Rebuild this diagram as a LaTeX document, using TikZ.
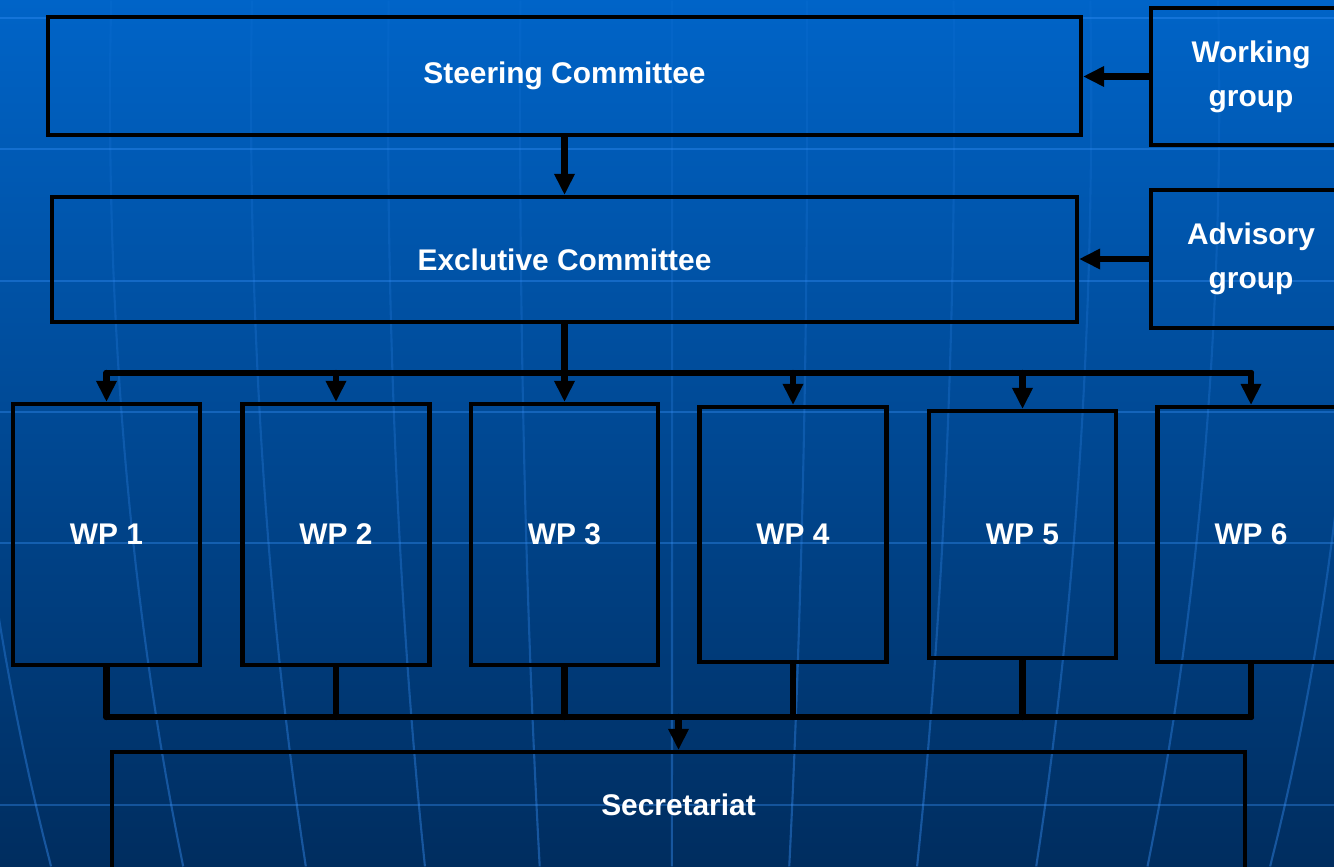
\documentclass[tikz,border=0pt]{standalone}
\usepackage{fontspec}
\setmainfont{Liberation Sans}
\usetikzlibrary{arrows.meta, fadings}
\definecolor{bgtop}{RGB}{0,100,200}
\definecolor{bgbottom}{RGB}{0,45,95}
\definecolor{gridblue}{RGB}{60,150,255}
\tikzfading[name=meridianfade, top color=transparent!85, bottom color=transparent!0]
\tikzset{
  txt/.style={text=white, font=\bfseries\fontsize{17}{25}\selectfont, align=center},
  box/.style={txt, draw=black, line width=2.3pt, rectangle},
  wire/.style={line width=3.6pt, line cap=round, line join=round},
  link/.style={wire, -{Triangle[width=11pt,length=12pt]}},
  parallel/.style={draw=gridblue, opacity=0.35, line width=1.4pt},
  meridian/.style={draw=gridblue, opacity=0.4, line width=1.2pt, path fading=meridianfade}
}

\begin{document}
\begin{tikzpicture}
    \useasboundingbox (0,0) rectangle (26.68,-17.32);
    \clip (0,0) rectangle (26.68,-17.32);
    \fill[top color=bgtop, bottom color=bgbottom] (0,0) rectangle (26.68,-17.32);
    \foreach \y in {0.36,2.98,5.62,8.24,10.86,16.1}
        \draw[parallel] (0,-\y) -- (26.68,-\y);
    \begin{scope}[x=0.02cm,y=-0.02cm]
        \foreach \d in {-712,-560,-419,-282,-150,2,137,284,421,549,690}
            \draw[meridian] plot[domain=0:866,samples=30,variable=\t] ({670+\d*sqrt(1-((\t-100)/1550)^2)},\t);
    \end{scope}

    \node[box, minimum width=20.66cm, minimum height=2.36cm] (steering) at (11.29,-1.52) {Steering Committee};
    \node[box, minimum width=20.5cm, minimum height=2.5cm] (exec) at (11.29,-5.19) {Exclutive Committee};
    \node[box, minimum width=4cm, minimum height=2.74cm] (working) at (25.02,-1.53) {Working\\group};
    \node[box, minimum width=4cm, minimum height=2.76cm] (advisory) at (25.02,-5.18) {Advisory\\group};
    \foreach \i/\x/\h in {1/2.13/5.22, 2/6.72/5.22, 3/11.29/5.22, 4/15.86/5.10, 5/20.45/4.94, 6/25.02/5.10}
        \node[box, minimum width=3.74cm, minimum height=\h cm] (wp\i) at (\x,-10.69) {WP \i};
    \node[box, anchor=north, minimum width=22.66cm, minimum height=3cm,
        label={[txt, anchor=center, yshift=-1.1cm]north:Secretariat}] (secretariat) at (13.57,-15) {};

    \coordinate (topbus) at (0,-7.46);
    \coordinate (lowbus) at (0,-14.34);
    \draw[link] (working.west) -- (working.west -| steering.east);
    \draw[link] (advisory.west) -- (advisory.west -| exec.east);
    \draw[link] (steering.south) -- (exec.north);
    \draw[link] (exec.south) -- (wp3.north);
    \draw[wire] (wp1.north |- topbus) -- (wp6.north |- topbus);
    \foreach \i in {1,2,4,5,6}
        \draw[link] (wp\i.north |- topbus) -- (wp\i.north);
    \foreach \i in {1,...,6}
        \draw[wire] (wp\i.south) -- (wp\i.south |- lowbus);
    \draw[wire] (wp1.south |- lowbus) -- (wp6.south |- lowbus);
    \draw[link] (secretariat.north |- lowbus) -- (secretariat.north);
\end{tikzpicture}
\end{document}
